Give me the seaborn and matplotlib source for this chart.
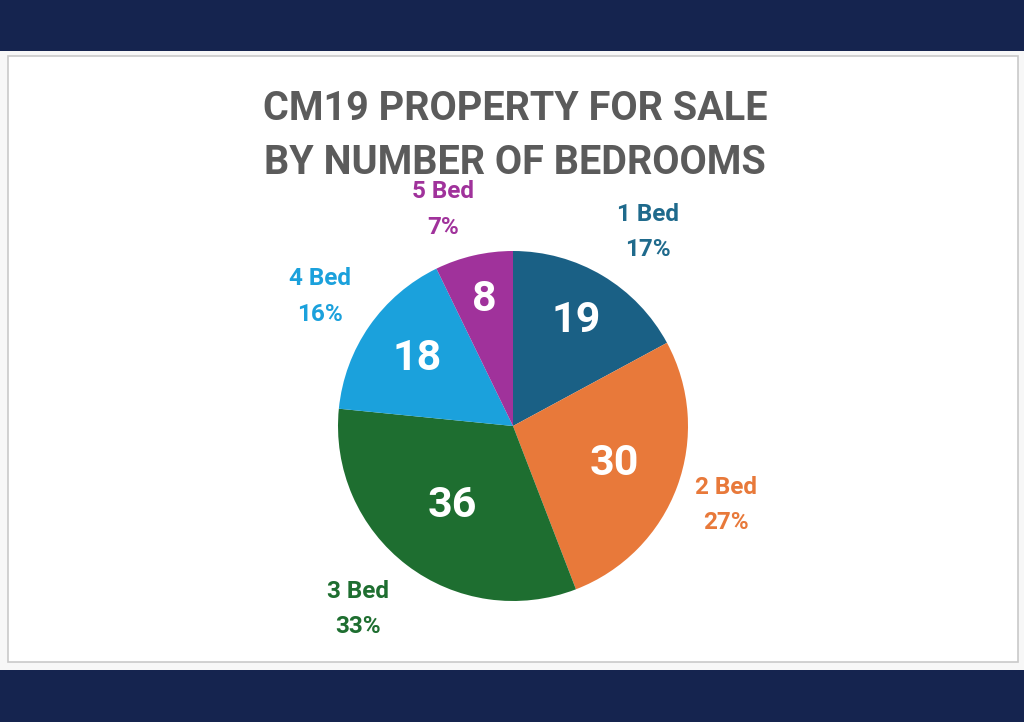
import matplotlib
matplotlib.use("Agg")
import matplotlib.pyplot as plt
from matplotlib.patches import Rectangle
import numpy as np
import seaborn as sns

# данные
categories = ["1 Bed", "2 Bed", "3 Bed", "4 Bed", "5 Bed"]
counts = [19, 30, 36, 18, 8]
pct_labels = ["17%", "27%", "33%", "16%", "7%"]
colors_hex = ["#1a6085", "#e8793a", "#1e6e30", "#1ba1dc", "#a0329b"]
label_hex = ["#1f6a8c", "#e8793a", "#1e6e30", "#1ba1dc", "#a0329b"]
title = "CM19 PROPERTY FOR SALE\nBY NUMBER OF BEDROOMS"

# размещение подписей как в Excel: расстояние (в радиусах) и сдвиг угла (град.)
label_dist = [1.35, 1.30, 1.37, 1.33, 1.30]
label_shift = [-4, 0, -3, 1, 5]
value_dist = [0.70, 0.62, 0.57, 0.67, 0.74]

sns.set_theme(style="white")
plt.rcParams["font.family"] = ["Roboto", "DejaVu Sans"]
palette = sns.color_palette(colors_hex)

W, H = 1024, 722
fig = plt.figure(figsize=(W / 100, H / 100), dpi=100)
fig.patch.set_facecolor("#f7f7f7")

# фон: полосы и белая панель
fig.add_artist(Rectangle((0, 1 - 51 / H), 1, 51 / H, transform=fig.transFigure,
                         facecolor="#15244f", edgecolor="none", zorder=-2))
fig.add_artist(Rectangle((0, 0), 1, 52 / H, transform=fig.transFigure,
                         facecolor="#15244f", edgecolor="none", zorder=-2))
fig.add_artist(Rectangle((8 / W, 1 - 662 / H), 1010 / W, 606 / H, transform=fig.transFigure,
                         facecolor="white", edgecolor="#c9c9c9", linewidth=1.2, zorder=-1))

fig.text(515 / W, 1 - 136 / H, title, ha="center", va="center", fontsize=28.5,
         fontweight="bold", color="#5b5b5b", linespacing=1.55)

# пирог
R = 175
ax = fig.add_axes([(513 - R) / W, (H - 426 - R) / H, 2 * R / W, 2 * R / H])
ax.set_zorder(1)
labels = [f"{c}\n{p}" for c, p in zip(categories, pct_labels)]
wedges, texts, autotexts = ax.pie(
    counts, colors=palette, startangle=90, counterclock=False,
    labels=labels, labeldistance=1.33,
    autopct=lambda p: f"{round(p * sum(counts) / 100):d}", pctdistance=0.67,
    wedgeprops=dict(linewidth=0),
    textprops=dict(fontweight="bold"))
for w, t, at, c, d, s, dv in zip(wedges, texts, autotexts, label_hex,
                                 label_dist, label_shift, value_dist):
    mid = (w.theta1 + w.theta2) / 2
    ang = np.deg2rad(mid + s)
    t.set_position((d * np.cos(ang), d * np.sin(ang)))
    t.set_ha("center")
    t.set_va("center")
    t.set_color(c)
    t.set_fontsize(17.5)
    t.set_linespacing(1.7)
    ang = np.deg2rad(mid)
    at.set_position((dv * np.cos(ang), dv * np.sin(ang)))
    at.set_color("white")
    at.set_fontsize(31)
ax.set_aspect("equal")
ax.set_xlim(-1, 1)
ax.set_ylim(-1, 1)
ax.axis("off")

fig.savefig("out.png", dpi=100, facecolor=fig.get_facecolor())
